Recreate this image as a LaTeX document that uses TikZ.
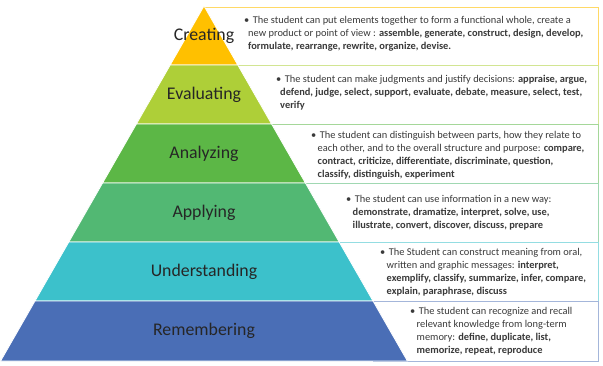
\documentclass[tikz,border=0pt]{standalone}
\usepackage{fontspec}
\setmainfont{Carlito}
\definecolor{creatingfill}{HTML}{FFC000}
\definecolor{evaluatingfill}{HTML}{AECF38}
\definecolor{analyzingfill}{HTML}{5CB746}
\definecolor{applyingfill}{HTML}{52B873}
\definecolor{understandingfill}{HTML}{3CC1CB}
\definecolor{rememberingfill}{HTML}{4A6EB6}
\definecolor{labelgray}{HTML}{262626}
\definecolor{infogray}{HTML}{3A3A3A}

\begin{document}
\begin{tikzpicture}[x=1pt, y=-1pt,
  band/.style={draw=white, line width=0.8pt},
  infobox/.style={line width=1pt, fill=white},
  level/.style={font=\fontsize{17.8}{20}\selectfont, text=labelgray},
  info/.style={anchor=west, align=left, inner sep=0pt, text=infogray,
    font=\fontsize{10.4}{13}\selectfont}]
  \useasboundingbox (0,0) rectangle (603,365);
  % text boxes behind the pyramid
  \draw[infobox, draw=creatingfill!60] (204,7) rectangle (598,65);
  \draw[infobox, draw=evaluatingfill!55] (237,65) rectangle (598,124);
  \draw[infobox, draw=analyzingfill!55] (271,124) rectangle (598,183);
  \draw[infobox, draw=applyingfill!55] (305,183) rectangle (598,242);
  \draw[infobox, draw=understandingfill!55] (339,242) rectangle (598,301);
  \draw[infobox, draw=rememberingfill!50] (373,301) rectangle (598,361);
  % pyramid bands
  \filldraw[band, fill=creatingfill] (204,6) -- (237.8,65) -- (170.2,65) -- cycle;
  \filldraw[band, fill=evaluatingfill] (170.2,65) -- (237.8,65) -- (271.6,124) -- (136.4,124) -- cycle;
  \filldraw[band, fill=analyzingfill] (136.4,124) -- (271.6,124) -- (305.4,183) -- (102.6,183) -- cycle;
  \filldraw[band, fill=applyingfill] (102.6,183) -- (305.4,183) -- (339.2,242) -- (68.8,242) -- cycle;
  \filldraw[band, fill=understandingfill] (68.8,242) -- (339.2,242) -- (373,301) -- (35,301) -- cycle;
  \filldraw[band, fill=rememberingfill] (35,301) -- (373,301) -- (407.4,361) -- (0.6,361) -- cycle;
  % level names
  \node[level] (creating) at (204,36) {Creating};
  \node[level] (evaluating) at (204,95) {Evaluating};
  \node[level] (analyzing) at (204,154) {Analyzing};
  \node[level] (applying) at (204,213) {Applying};
  \node[level] (understanding) at (204,272) {Understanding};
  \node[level] (remembering) at (204,331) {Remembering};
  % descriptions
  \node[info] (creatingtext) at (244,33.5) {\textbullet\hspace{3.5pt}The student can put elements together to form a functional whole, create a\\
    \hspace*{4pt}new product or point of view : \textbf{assemble, generate, construct, design, develop,}\\
    \hspace*{4pt}\textbf{formulate, rearrange, rewrite, organize, devise.}};
  \node[info] (evaluatingtext) at (276,93) {\textbullet\hspace{3.5pt}The student can make judgments and justify decisions: \textbf{appraise, argue,}\\
    \hspace*{4pt}\textbf{defend, judge, select, support, evaluate, debate, measure, select, test,}\\
    \hspace*{4pt}\textbf{verify}};
  \node[info] (analyzingtext) at (311,155.5) {\textbullet\hspace{3.5pt}The student can distinguish between parts, how they relate to\\
    \hspace*{6.5pt}each other, and to the overall structure and purpose: \textbf{compare,}\\
    \hspace*{6.5pt}\textbf{contract, criticize, differentiate, discriminate, question,}\\
    \hspace*{6.5pt}\textbf{classify, distinguish, experiment}};
  \node[info] (applyingtext) at (346,213) {\textbullet\hspace{3.5pt}The student can use information in a new way:\\
    \hspace*{6.5pt}\textbf{demonstrate, dramatize, interpret, solve, use,}\\
    \hspace*{6.5pt}\textbf{illustrate, convert, discover, discuss, prepare}};
  \node[info] (understandingtext) at (380,272.5) {\textbullet\hspace{3.5pt}The Student can construct meaning from oral,\\
    \hspace*{6.5pt}written and graphic messages: \textbf{interpret,}\\
    \hspace*{6.5pt}\textbf{exemplify, classify, summarize, infer, compare,}\\
    \hspace*{6.5pt}\textbf{explain, paraphrase, discuss}};
  \node[info] (rememberingtext) at (410,331.5) {\textbullet\hspace{3.5pt}The student can recognize and recall\\
    \hspace*{6.5pt}relevant knowledge from long-term\\
    \hspace*{6.5pt}memory: \textbf{define, duplicate, list,}\\
    \hspace*{6.5pt}\textbf{memorize, repeat, reproduce}};
\end{tikzpicture}
\end{document}
